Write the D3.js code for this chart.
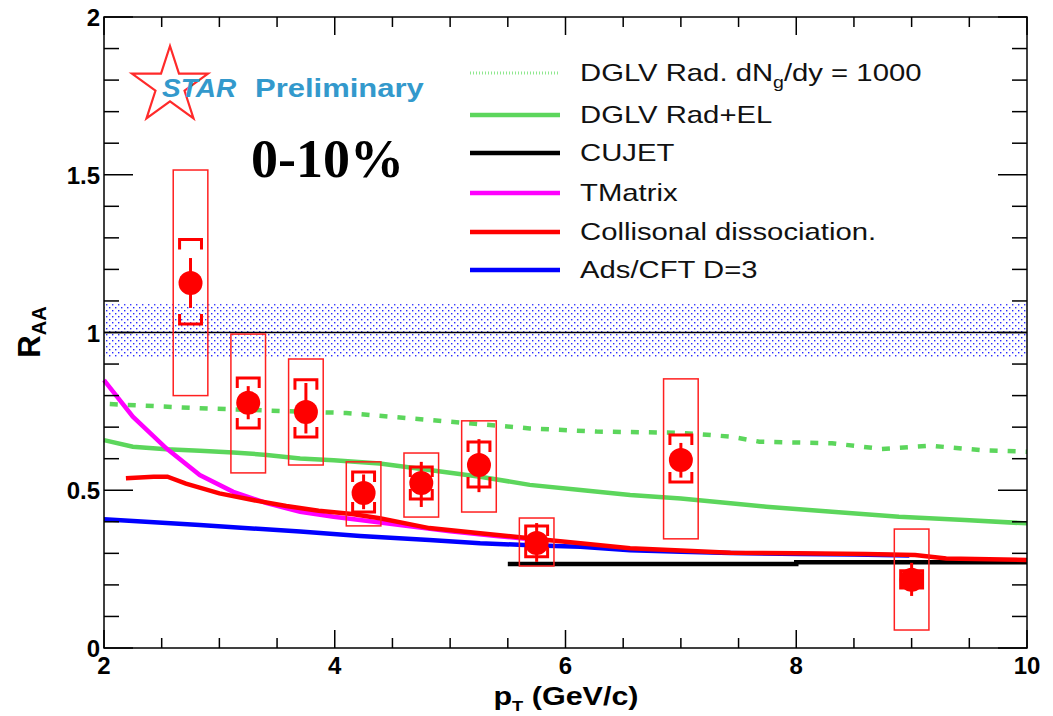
<!DOCTYPE html>
<html><head><meta charset="utf-8">
<script src="https://cdn.jsdelivr.net/npm/d3@7"></script>
<style>body{margin:0;background:#fff;} svg{display:block;}</style>
</head><body>
<svg id="c" width="1053" height="716"></svg>
<script>
// ---------- data ----------
const pt      = [2.75, 3.25, 3.75, 4.25, 4.75, 5.25, 5.75, 7.0, 9.0];
const raa     = [1.157, 0.777, 0.748, 0.491, 0.523, 0.58, 0.333, 0.596, 0.216];
const statLo  = [1.078, 0.725, 0.68, 0.44, 0.447, 0.494, 0.273, 0.54, 0.165];
const statHi  = [1.236, 0.83, 0.84, 0.55, 0.59, 0.662, 0.396, 0.65, 0.27];
const sys2Lo  = [1.027, 0.697, 0.669, 0.431, 0.472, 0.51, 0.289, 0.526, 0.19];
const sys2Hi  = [1.295, 0.856, 0.85, 0.558, 0.574, 0.653, 0.387, 0.675, 0.245];
const boxLo   = [0.80, 0.555, 0.58, 0.387, 0.415, 0.431, 0.26, 0.346, 0.057];
const boxHi   = [1.515, 0.995, 0.916, 0.59, 0.618, 0.72, 0.412, 0.853, 0.377];

const dglvRadX = [2.05, 2.83, 3.7, 4.1, 4.82, 5.69, 6.27, 7.0, 7.43, 7.68, 8.31, 8.74, 9.17, 9.6, 10.0];
const dglvRadY = [0.773, 0.76, 0.749, 0.745, 0.723, 0.696, 0.686, 0.682, 0.67, 0.654, 0.649, 0.631, 0.641, 0.627, 0.622];

const dglvElX = [2.0, 2.25, 2.54, 2.83, 3.12, 3.41, 3.7, 3.99, 4.39, 4.82, 5.26, 5.69, 6.13, 6.56, 7.0, 7.43, 7.74, 8.31, 8.89, 9.46, 10.0];
const dglvElY = [0.659, 0.638, 0.63, 0.625, 0.62, 0.612, 0.601, 0.595, 0.585, 0.564, 0.543, 0.517, 0.501, 0.485, 0.474, 0.459, 0.448, 0.432, 0.416, 0.406, 0.395];

const cujetX = [5.5, 8.0, 8.0, 10.0];
const cujetY = [0.266, 0.266, 0.272, 0.272];

const tmatX = [2.0, 2.25, 2.54, 2.83, 3.12, 3.41, 3.7, 3.99, 4.22, 4.6, 5.0, 5.4, 5.7];
const tmatY = [0.849, 0.733, 0.633, 0.548, 0.495, 0.459, 0.432, 0.416, 0.406, 0.388, 0.37, 0.355, 0.345];

const collX = [2.19, 2.43, 2.55, 2.71, 3.0, 3.29, 3.58, 3.86, 4.15, 4.39, 4.82, 5.26, 5.69, 6.13, 6.56, 7.0, 7.43, 8.0, 8.6, 9.03, 9.3, 10.0];
const collY = [0.538, 0.543, 0.543, 0.521, 0.49, 0.469, 0.45, 0.435, 0.425, 0.411, 0.38, 0.364, 0.348, 0.332, 0.316, 0.309, 0.302, 0.3, 0.298, 0.295, 0.284, 0.279];

const adsX = [2.0, 2.83, 3.7, 4.22, 4.82, 5.26, 5.69, 6.13, 6.56, 7.0, 7.43, 8.03, 8.5, 8.98];
const adsY = [0.408, 0.39, 0.369, 0.355, 0.342, 0.332, 0.326, 0.321, 0.31, 0.305, 0.301, 0.298, 0.296, 0.293];

const bandLo = 0.92, bandHi = 1.09;

const xTicks = [2, 4, 6, 8, 10];
const yTicks = [0, 0.5, 1, 1.5, 2];
const yTickLabels = ["0", "0.5", "1", "1.5", "2"];

const legendLabels = ["DGLV Rad. dN", "DGLV Rad+EL", "CUJET", "TMatrix", "Collisonal dissociation.", "Ads/CFT D=3"];
const legendColors = ["#8fe88f", "#5cd65c", "#000000", "#ff00ff", "#ff0000", "#0000ff"];

// ---------- layout ----------
const svg = d3.select("#c");
const L = 104, R = 1027, T = 17, B = 648;
const x = d3.scaleLinear().domain([2, 10]).range([L, R]);
const y = d3.scaleLinear().domain([0, 2]).range([B, T]);
const axisFont = "'Liberation Sans', Arial, sans-serif";

const defs = svg.append("defs");
const pat = defs.append("pattern").attr("id", "dots").attr("patternUnits", "userSpaceOnUse")
  .attr("width", 6).attr("height", 6);
pat.append("rect").attr("x", 1).attr("y", 1).attr("width", 1.4).attr("height", 1.4).attr("fill", "#2a2aff");
pat.append("rect").attr("x", 4).attr("y", 4).attr("width", 1.4).attr("height", 1.4).attr("fill", "#2a2aff");

// band
svg.append("rect").attr("x", x(2)).attr("y", y(bandHi)).attr("width", x(10) - x(2))
  .attr("height", y(bandLo) - y(bandHi)).attr("fill", "url(#dots)");
svg.append("line").attr("x1", x(2)).attr("x2", x(10)).attr("y1", y(1)).attr("y2", y(1))
  .attr("stroke", "#000").attr("stroke-width", 1.5);

// curves
const line = d3.line().x(d => x(d[0])).y(d => y(d[1]));
function curve(xs, ys, color, w, dash) {
  const p = svg.append("path").datum(xs.map((v, i) => [v, ys[i]]))
    .attr("d", line).attr("fill", "none").attr("stroke", color).attr("stroke-width", w);
  if (dash) p.attr("stroke-dasharray", dash);
}
curve(dglvRadX, dglvRadY, "#5cd65c", 4.5, "8 10");
curve(dglvElX, dglvElY, "#5cd65c", 4.5);
curve(cujetX, cujetY, "#000000", 4.5);
curve(tmatX, tmatY, "#ff00ff", 4.5);
curve(adsX, adsY, "#0000ff", 4.5);
curve(collX, collY, "#ff0000", 4.5);

// data points
const bw = 0.15, bk = 0.095, leg = 10;
pt.forEach((p, i) => {
  const g = svg.append("g");
  g.append("rect").attr("x", x(p - bw)).attr("y", y(boxHi[i]))
    .attr("width", x(p + bw) - x(p - bw)).attr("height", y(boxLo[i]) - y(boxHi[i]))
    .attr("fill", "none").attr("stroke", "#ff2020").attr("stroke-width", 1.5);
  const xl = x(p - bk), xr = x(p + bk), yt = y(sys2Hi[i]), yb = y(sys2Lo[i]);
  g.append("path").attr("d",
    `M${xl},${yt + leg}V${yt}H${xr}V${yt + leg}M${xl},${yb - leg}V${yb}H${xr}V${yb - leg}`)
    .attr("fill", "none").attr("stroke", "#ff0000").attr("stroke-width", 3);
  g.append("line").attr("x1", x(p)).attr("x2", x(p)).attr("y1", y(statHi[i])).attr("y2", y(statLo[i]))
    .attr("stroke", "#ff0000").attr("stroke-width", 3);
  g.append("circle").attr("cx", x(p)).attr("cy", y(raa[i])).attr("r", 12).attr("fill", "#ff0000");
});

// frame
svg.append("rect").attr("x", L).attr("y", T).attr("width", R - L).attr("height", B - T)
  .attr("fill", "none").attr("stroke", "#000").attr("stroke-width", 1.5);

// ticks
const tk = svg.append("g").attr("stroke", "#000").attr("stroke-width", 1.5);
d3.range(0, 17).forEach(k => {
  const v = 2 + k * 0.5, major = k % 4 === 0, len = major ? 18 : 10;
  tk.append("line").attr("x1", x(v)).attr("x2", x(v)).attr("y1", B).attr("y2", B - len);
  tk.append("line").attr("x1", x(v)).attr("x2", x(v)).attr("y1", T).attr("y2", T + len);
});
d3.range(0, 21).forEach(k => {
  const v = k * 0.1, major = k % 5 === 0, len = major ? 29 : 15;
  tk.append("line").attr("y1", y(v)).attr("y2", y(v)).attr("x1", L).attr("x2", L + len);
  tk.append("line").attr("y1", y(v)).attr("y2", y(v)).attr("x1", R).attr("x2", R - len);
});

// tick labels
xTicks.forEach(v => {
  svg.append("text").attr("x", x(v)).attr("y", 674).attr("text-anchor", "middle")
    .attr("font-family", axisFont).attr("font-weight", "bold").attr("font-size", 24).text(v);
});
yTicks.forEach((v, i) => {
  svg.append("text").attr("x", 100).attr("y", y(v) + 9).attr("text-anchor", "end")
    .attr("font-family", axisFont).attr("font-weight", "bold").attr("font-size", 24).text(yTickLabels[i]);
});

// axis titles
const xt = svg.append("text").attr("transform", "translate(566,705) scale(1.22,1)").attr("text-anchor", "middle")
  .attr("font-family", axisFont).attr("font-weight", "bold").attr("font-size", 25);
xt.append("tspan").text("p");
xt.append("tspan").attr("font-size", 15).attr("dy", 6).text("T");
xt.append("tspan").attr("dy", -6).text(" (GeV/c)");

const yt = svg.append("text").attr("transform", "translate(40,332) rotate(-90)").attr("text-anchor", "middle")
  .attr("font-family", axisFont).attr("font-weight", "bold").attr("font-size", 31);
yt.append("tspan").text("R");
yt.append("tspan").attr("font-size", 20).attr("dy", 6).text("AA");

// legend
const legY = [73, 115, 153, 193, 232, 270];
legendLabels.forEach((lab, i) => {
  const ln = svg.append("line").attr("x1", 470).attr("x2", 560).attr("y1", legY[i]).attr("y2", legY[i])
    .attr("stroke", legendColors[i]).attr("stroke-width", i === 0 ? 3 : 4.5);
  if (i === 0) ln.attr("stroke-dasharray", "1 2");
  const t = svg.append("text").attr("transform", `translate(580,${legY[i] + 8}) scale(1.22,1)`)
    .attr("font-family", axisFont).attr("font-size", 24).attr("fill", "#111");
  t.append("tspan").text(lab);
  if (i === 0) {
    t.append("tspan").attr("font-size", 16).attr("dy", 7).text("g");
    t.append("tspan").attr("dy", -7).text("/dy = 1000");
  }
});

// STAR logo
const cx = 170, cy = 86, Ro = 40, Ri = Ro * 0.382;
const starPts = d3.range(10).map(k => {
  const a = -Math.PI / 2 + k * Math.PI / 5, r = k % 2 === 0 ? Ro : Ri;
  return [cx + r * Math.cos(a), cy + r * Math.sin(a)];
});
svg.append("polygon").attr("points", starPts.map(p => p.join(",")).join(" "))
  .attr("fill", "none").attr("stroke", "#ff2a2a").attr("stroke-width", 2.2);
svg.append("text").attr("transform", "translate(162,97) scale(1.12,1)").attr("font-family", axisFont)
  .attr("font-style", "italic").attr("font-weight", "bold")
  .attr("font-size", 25).attr("fill", "#3399cc").text("STAR");
svg.append("text").attr("transform", "translate(255,97) scale(1.24,1)").attr("font-family", axisFont)
  .attr("font-weight", "bold").attr("font-size", 25).attr("fill", "#3399cc").text("Preliminary");

svg.append("text").attr("x", 251).attr("y", 177).attr("font-family", "'Liberation Serif', 'Times New Roman', serif")
  .attr("font-weight", "bold").attr("font-size", 54).attr("fill", "#000").text("0-10%");
</script>
</body></html>
